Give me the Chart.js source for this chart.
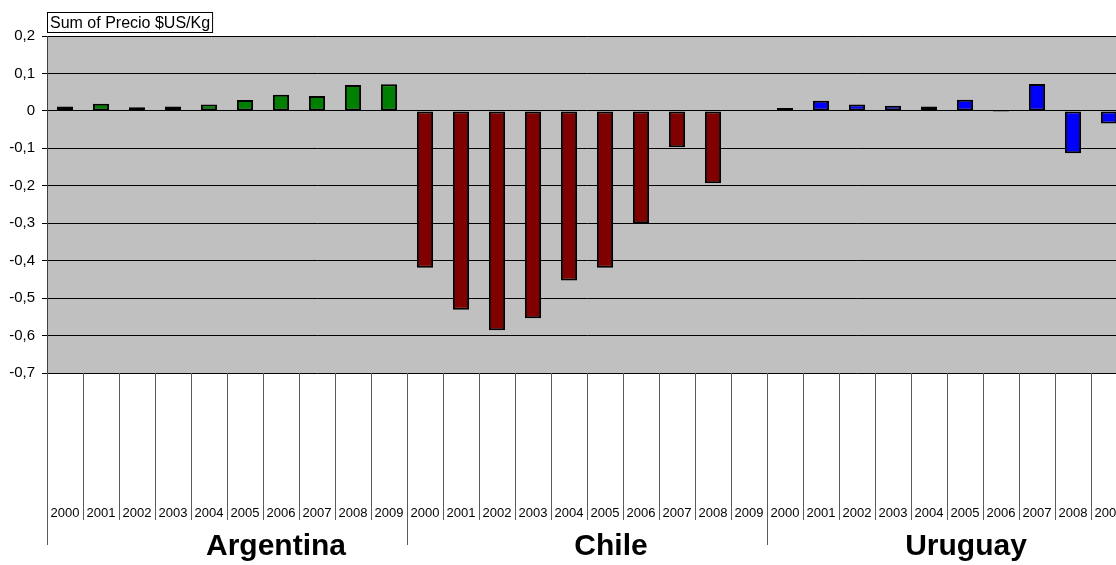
<!DOCTYPE html>
<html>
<head>
<meta charset="utf-8">
<script src="https://cdn.jsdelivr.net/npm/chart.js@4/dist/chart.umd.min.js"></script>
<style>
html,body{margin:0;padding:0;overflow:hidden;background:#fff;}
canvas{display:block;}
</style>
</head>
<body>
<canvas id="c" width="1127" height="565"></canvas>
<script>
// ---- data ----
const countries = ['Argentina', 'Chile', 'Uruguay'];
const years = ['2000','2001','2002','2003','2004','2005','2006','2007','2008','2009'];
const argentina = [0.012, 0.019, 0.010, 0.012, 0.017, 0.029, 0.043, 0.040, 0.069, 0.071];
const chile = [-0.419, -0.531, -0.586, -0.554, -0.453, -0.419, -0.300, -0.097, -0.193, null];
const uruguay = [0.008, 0.027, 0.017, 0.014, 0.012, 0.030, -0.003, 0.072, -0.113, -0.034];
const seriesColors = ['#008000', '#800000', '#0000FF'];
const yMin = -0.7, yMax = 0.2, yStep = 0.1;
const chartTitle = 'Sum of Precio $US/Kg';

// ---- build ----
const seriesList = [argentina, chile, uruguay];
const labels = [];
const values = [];
const colors = [];
countries.forEach((c, gi) => {
  years.forEach((y, yi) => {
    labels.push(c + ' ' + y);
    values.push(seriesList[gi][yi]);
    colors.push(seriesColors[gi]);
  });
});

const FONT = "'Liberation Sans', Arial, sans-serif";
Chart.defaults.color = '#000';
Chart.defaults.font.family = FONT;

const bgPlugin = {
  id: 'bg',
  beforeDraw(chart) {
    const ctx = chart.ctx, a = chart.chartArea;
    ctx.save();
    ctx.fillStyle = '#fff';
    ctx.fillRect(0, 0, chart.width, chart.height);
    ctx.fillStyle = '#C0C0C0';
    ctx.fillRect(a.left, a.top, a.right - a.left, a.bottom - a.top);
    ctx.restore();
  }
};

const groupLabelShift = [49, 24, 19];

const axisPlugin = {
  id: 'catAxis',
  afterDraw(chart) {
    const ctx = chart.ctx, a = chart.chartArea;
    const xs = chart.scales.x;
    const step = xs.getPixelForValue(1) - xs.getPixelForValue(0);
    const n = labels.length;
    ctx.save();
    // separators
    for (let i = 0; i <= n; i++) {
      const x = Math.round(xs.getPixelForValue(i) - step / 2) + 0.5;
      const isGroup = i % years.length === 0;
      ctx.strokeStyle = '#5a5a5a';
      ctx.lineWidth = 1;
      ctx.beginPath();
      ctx.moveTo(x, a.bottom);
      ctx.lineTo(x, isGroup ? 545 : 520);
      ctx.stroke();
    }
    // year labels
    ctx.fillStyle = '#000';
    ctx.font = '13px ' + FONT;
    ctx.textAlign = 'center';
    ctx.textBaseline = 'alphabetic';
    for (let i = 0; i < n; i++) {
      ctx.fillText(years[i % years.length], xs.getPixelForValue(i), 517);
    }
    // group labels
    ctx.font = 'bold 30px ' + FONT;
    countries.forEach((c, gi) => {
      const first = xs.getPixelForValue(gi * years.length);
      const last = xs.getPixelForValue(gi * years.length + years.length - 1);
      ctx.fillText(c, (first + last) / 2 + groupLabelShift[gi], 555);
    });
    // title box
    ctx.font = '16px ' + FONT;
    ctx.textAlign = 'left';
    const w = ctx.measureText(chartTitle).width;
    ctx.fillStyle = '#fff';
    ctx.fillRect(47.5, 12.5, w + 5, 20);
    ctx.strokeStyle = '#000';
    ctx.strokeRect(47.5, 12.5, w + 5, 20);
    ctx.fillStyle = '#000';
    ctx.fillText(chartTitle, 50, 28);
    ctx.restore();
  }
};

new Chart(document.getElementById('c'), {
  type: 'bar',
  data: {
    labels: labels,
    datasets: [{
      data: values,
      backgroundColor: colors,
      borderColor: '#000',
      borderWidth: 2,
      borderSkipped: false,
      barPercentage: 0.45,
      categoryPercentage: 1.0
    }]
  },
  options: {
    responsive: false,
    animation: false,
    devicePixelRatio: 1,
    layout: { padding: { top: 36, left: 0, right: 0, bottom: 0 } },
    plugins: { legend: { display: false }, tooltip: { enabled: false }, title: { display: false } },
    scales: {
      x: {
        type: 'category',
        offset: true,
        grid: { display: false },
        border: { display: false },
        ticks: { display: false },
        afterFit(s) { s.height = 192; }
      },
      y: {
        min: yMin,
        max: yMax,
        ticks: {
          stepSize: yStep,
          padding: 7,
          font: { size: 15, family: FONT },
          color: '#000',
          callback(v) {
            const r = Math.round(v * 10) / 10;
            return String(r).replace('.', ',');
          }
        },
        grid: { color: '#000', lineWidth: 1, tickLength: 5, drawTicks: true },
        border: { display: true, color: '#404040', width: 1 },
        afterFit(s) { s.width = 47; }
      }
    }
  },
  plugins: [bgPlugin, axisPlugin]
});
</script>
</body>
</html>
